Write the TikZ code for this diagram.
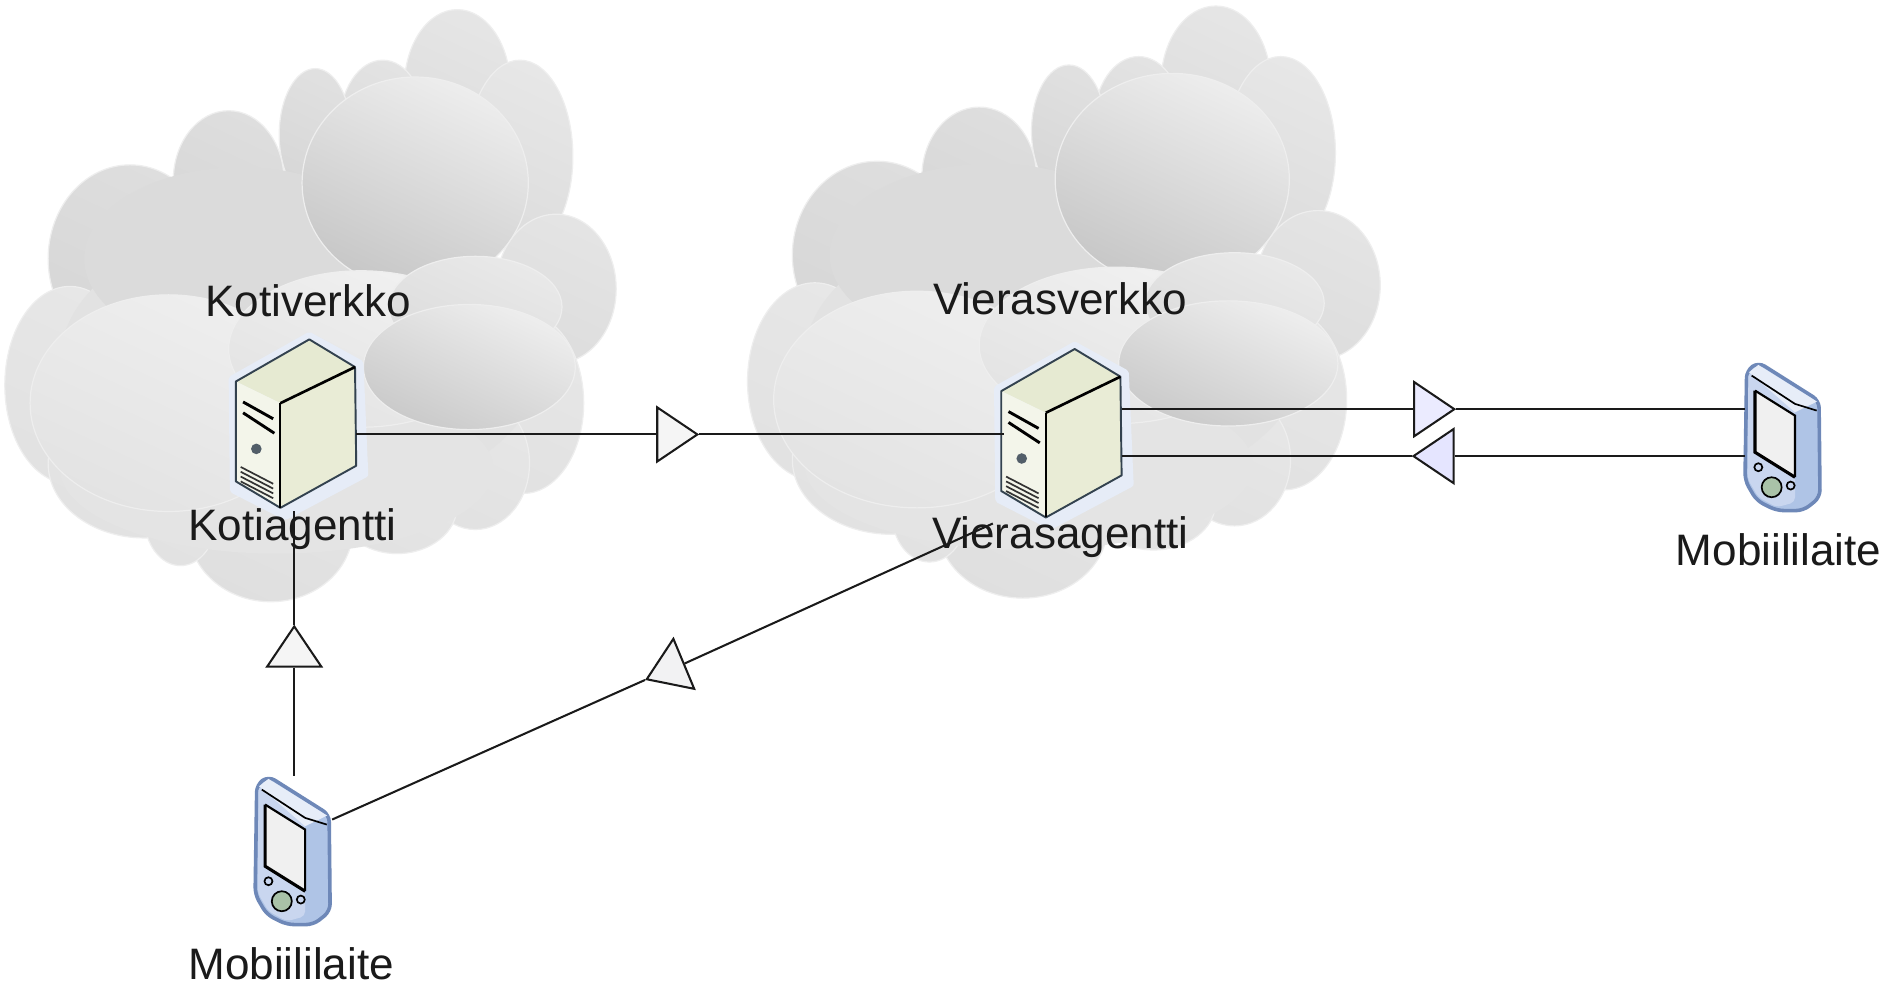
\documentclass[tikz,border=0pt]{standalone}
\usepackage{fontspec}
\setmainfont{Liberation Sans}
\usetikzlibrary{calc,shapes.geometric}
\definecolor{linek}{HTML}{1A1A1A}
\definecolor{srvedge}{HTML}{33424F}
\definecolor{srvface}{HTML}{E9ECD6}
\definecolor{srvtop}{HTML}{E6EAD2}
\definecolor{srvfront}{HTML}{F3F5EA}
\definecolor{halo}{HTML}{E6ECF7}
\definecolor{phbody}{HTML}{AFC4E6}
\definecolor{phface}{HTML}{C9D6EF}
\definecolor{phedge}{HTML}{6E88B8}
\definecolor{phbtn}{HTML}{A9C2A8}
\tikzset{
  x=0.5pt,y=-0.5pt,
  lbl/.style={font=\fontsize{18.3}{20}\selectfont,text=linek,inner sep=0pt},
  wire/.style={draw=linek,line width=0.85pt},
  arrowtri/.style={isosceles triangle,isosceles triangle apex angle=68,draw=linek,line width=0.85pt,
     inner sep=0pt,minimum height=16.5pt,minimum width=22.5pt,anchor=apex,fill=#1},
  arrowtri/.default=white,
  holder/.style={inner sep=0pt,outer sep=0pt,minimum width=#1}
}
% cloud lobe: cx cy rx ry light dark
\newcommand{\lobe}[6]{\shade[top color=#5,bottom color=#6,shading angle=-25] (#1,#2) ellipse [x radius=#3*0.5pt,y radius=#4*0.5pt];
  \draw[gray!13,line width=0.5pt] (#1,#2) ellipse [x radius=#3*0.5pt,y radius=#4*0.5pt];}
\newcommand{\cloudshape}{%
  % back layer
  \lobe{380}{72}{44}{64}{gray!20}{gray!27}
  \lobe{432}{130}{44}{80}{gray!19}{gray!27}
  \lobe{318}{105}{36}{55}{gray!22}{gray!30}
  \lobe{262}{112}{30}{55}{gray!24}{gray!32}
  \lobe{190}{150}{46}{58}{gray!26}{gray!32}
  \lobe{108}{215}{68}{78}{gray!26}{gray!32}
  \lobe{462}{240}{50}{62}{gray!21}{gray!27}
  \lobe{58}{320}{54}{82}{gray!19}{gray!23}
  \lobe{120}{385}{80}{62}{gray!19}{gray!23}
  \lobe{435}{335}{50}{75}{gray!19}{gray!23}
  \lobe{395}{385}{45}{55}{gray!19}{gray!23}
  \lobe{225}{440}{68}{60}{gray!21}{gray!25}
  \lobe{150}{430}{30}{40}{gray!19}{gray!23}
  \lobe{330}{420}{50}{40}{gray!19}{gray!23}
  \fill[gray!23] (250,300) ellipse [x radius=100pt,y radius=60pt];
  \fill[gray!28] (200,215) ellipse [x radius=65pt,y radius=38pt];
  \fill[gray!21] (230,390) ellipse [x radius=90pt,y radius=35pt];
  % mid layer
  \lobe{345}{152}{94}{88}{gray!14}{gray!44}
  \lobe{140}{335}{115}{90}{gray!13}{gray!22}
  \lobe{300}{290}{110}{65}{gray!11}{gray!22}
  \lobe{395}{255}{72}{42}{gray!17}{gray!28}
  \lobe{390}{305}{88}{52}{gray!13}{gray!42}
}
\newcommand{\srv}[2]{\begin{scope}[shift={(#1,#2)}]
  \draw[halo,fill=halo,line width=3pt,line join=round] (0,-3)--(42,20)--(46,112)--(-20,147)--(-63,125)--(-64,33)--cycle;
  \fill[srvtop] (0,0)--(38,23)--(-24,53)--(-61,35)--cycle;
  \fill[srvface] (-24,53)--(38,23)--(39,105)--(-24,140)--cycle;
  \fill[srvfront] (-61,35)--(-24,53)--(-24,140)--(-61,118)--cycle;
  \draw[srvedge,line width=0.8pt,line join=round] (-61,35)--(0,0)--(38,23)--(39,105)--(-24,140)--(-61,118)--cycle;
  \draw[black,line width=1.1pt] (-24,53)--(38,23);
  \draw[black,line width=0.9pt] (-24,53)--(-24,140);
  \draw[black,line width=1.2pt] (-55,52)--(-30,66);
  \draw[black,line width=1.2pt] (-55,61)--(-29,78);
  \fill[srvedge!85] (-44,91) circle [radius=2.2pt];
  \foreach \d in {0,4,8,12}{\draw[black!80,line width=0.7pt] (-57,106+\d)--(-30,120+\d);}
\end{scope}}
\newcommand{\phone}[2]{\begin{scope}[shift={(#1,#2)},scale=0.277]
  \fill[phbody,draw=phedge,line width=1.5pt,line join=round,rounded corners=3pt] (5,25)--(40,0)--(222,115)--(225,405)--(175,445)--(95,445)--(35,415)--(0,355)--cycle;
  \fill[phface,rounded corners=2pt] (10,28)--(20,40)--(150,125)--(150,420)--(95,435)--(40,405)--(8,350)--cycle;
  \fill[white!70!phbody] (12,30)--(40,8)--(216,118)--(150,150)--cycle;
  \fill[white!88!gray] (30,85)--(150,160)--(150,345)--(30,270)--cycle;
  \draw[black,line width=1.3pt] (30,85)--(30,270)--(150,345);
  \draw[black,line width=0.9pt] (30,85)--(150,160)--(150,345);
  \draw[black,line width=0.7pt] (20,40)--(150,125)--(215,145);
  \fill[phbtn,draw=black,line width=0.7pt] (80,375) circle [radius=15pt];
  \draw[black,line width=0.7pt] (40,315) circle [radius=6pt];
  \draw[black,line width=0.7pt] (137,370) circle [radius=6pt];
\end{scope}}
\begin{document}
\begin{tikzpicture}
\useasboundingbox (0,0) rectangle (1568,819);
\fill[white] (0,0) rectangle (1568,819);
% clouds
\begin{scope}\cloudshape\end{scope}
\begin{scope}[shift={(617,-3)},xscale=1.035]\cloudshape\end{scope}
% holders for devices
\node[holder=50pt,minimum height=64pt] (srvA) at (246,361) {};
\node[holder=49pt,minimum height=64pt] (srvB) at (883,361) {};
\node[holder=31pt,minimum height=62pt] (phL) at (243.5,707) {};
\node[holder=31pt,minimum height=62pt] (phR) at (1481,363) {};
\srv{257}{282}
\srv{893}{290}
\phone{1450}{301}
\phone{212}{645}
% triangles
\node[arrowtri=gray!8] (t1) at (581,361) {};
\node[arrowtri=gray!8,rotate=90] (t2) at (244.5,519) {};
\node[arrowtri=blue!4!gray!10,rotate=202.6] (t3) at (536,565) {};
\node[arrowtri=blue!8!white] (t4) at (1210,340) {};
\node[arrowtri=blue!10!white,rotate=180] (t5) at (1173,379) {};
% connectors
\coordinate (diagEnd) at (825,435);
\coordinate (diagStart) at (276,681);
\draw[wire] (srvA.east) -- (t1.west);
\draw[wire] (t1.apex) -- (srvB.west);
\draw[wire] (diagStart) -- (t3.apex);
\draw[wire] (t3.west) -- (diagEnd);
\draw[wire] (t2.apex) -- (t2.apex |- srvA.south);
\draw[wire] (t2.west) -- (t2.west |- phL.north);
\draw[wire] (srvB.east |- t4.center) -- (t4.west);
\draw[wire] (t4.apex) -- (phR.west |- t4.center);
\draw[wire] (srvB.east |- t5.center) -- (t5.apex);
\draw[wire] (t5.west) -- (phR.west |- t5.center);
% labels
\node[lbl] (l1) at (256,250) {Kotiverkko};
\node[lbl] (l2) at (243,440) {Kotiagentti};
\node[lbl] (l3) at (881,248) {Vierasverkko};
\node[lbl] (l4) at (881,446) {Vierasagentti};
\node[lbl] (l5) at (1478,457) {Mobiililaite};
\node[lbl] (l6) at (242,801) {Mobiililaite};
\end{tikzpicture}
\end{document}
